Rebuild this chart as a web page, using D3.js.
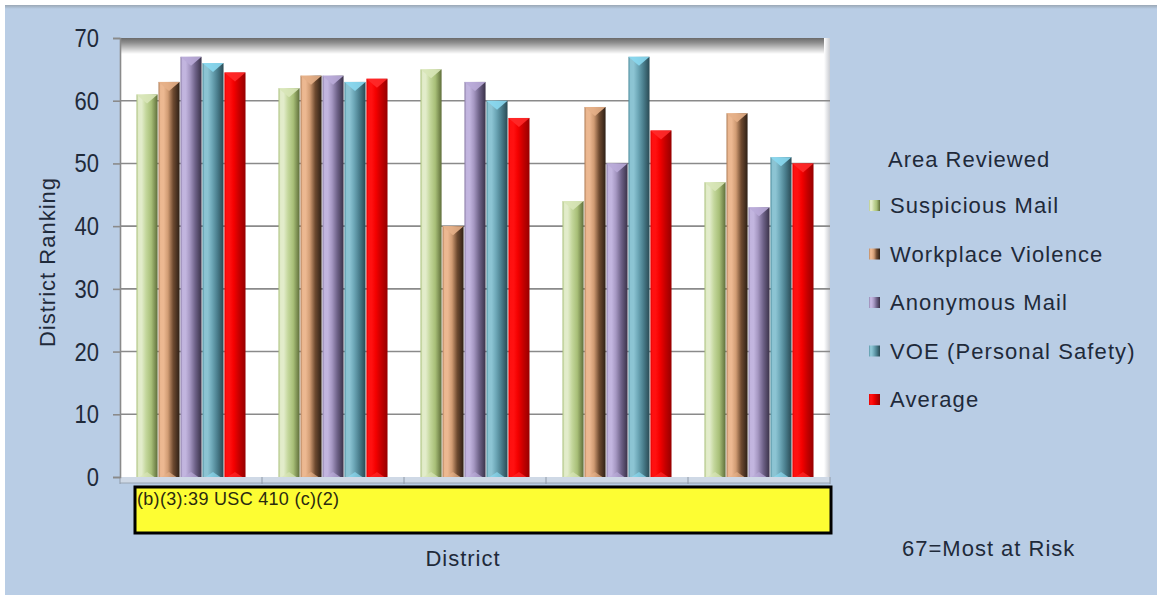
<!DOCTYPE html>
<html>
<head>
<meta charset="utf-8">
<script src="https://cdn.jsdelivr.net/npm/d3@7/dist/d3.min.js"></script>
<style>
  html, body { margin: 0; padding: 0; background: #ffffff; }
  svg { display: block; }
  text { font-family: "Liberation Sans", Arial, sans-serif; fill: #1f2a3a; }
</style>
</head>
<body>
<svg id="chart" width="1157" height="597"></svg>
<script>
// ---- data ----
const districts = ["D1", "D2", "D3", "D4", "D5"]; // district names redacted in the original
const seriesNames = ["Suspicious Mail", "Workplace Violence", "Anonymous Mail", "VOE (Personal Safety)", "Average"];
const suspiciousMail = [61, 62, 65, 44, 47];
const workplaceViolence = [63, 64, 40, 59, 58];
const anonymousMail = [67, 64, 63, 50, 43];
const voePersonalSafety = [66, 63, 60, 67, 51];
const averageValues = [64.5, 63.5, 57.25, 55.25, 50];
const yTicks = [0, 10, 20, 30, 40, 50, 60, 70];
const yTitle = "District Ranking";
const xTitle = "District";
const legendTitle = "Area Reviewed";
const redactionText = "(b)(3):39 USC 410 (c)(2)";
const noteText = "67=Most at Risk";

const seriesValues = [suspiciousMail, workplaceViolence, anonymousMail, voePersonalSafety, averageValues];
// colours: [left-edge, highlight, base, shade, right-edge, cap]
const palette = [
  ["#a9c07a", "#e2ecca", "#c4d79c", "#a8bf78", "#5f6e3a", "#d8e6b8"],
  ["#b07e58", "#ecb891", "#d09b73", "#6e4a30", "#2e2016", "#e5b088"],
  ["#8a7ca6", "#c2b5df", "#a597c2", "#6e6288", "#3a3249", "#b9abd8"],
  ["#4e8d9e", "#8cc4d3", "#6ea8b8", "#4b7f8e", "#2a4a54", "#8ad8ef"],
  ["#e00000", "#ff1010", "#f40000", "#c60000", "#960000", "#ff2a2a"]
];

const svg = d3.select("#chart");
const defs = svg.append("defs");

// background panel
svg.append("rect").attr("x", 0).attr("y", 0).attr("width", 1157).attr("height", 597).attr("fill", "#ffffff");
svg.append("rect").attr("x", 5).attr("y", 6).attr("width", 1152).attr("height", 589).attr("fill", "#b9cde5");
const topShade = defs.append("linearGradient").attr("id", "topShade").attr("x1", 0).attr("y1", 0).attr("x2", 0).attr("y2", 1);
topShade.append("stop").attr("offset", 0).attr("stop-color", "#9aa7b5");
topShade.append("stop").attr("offset", 1).attr("stop-color", "#b9cde5");
svg.append("rect").attr("x", 5).attr("y", 5).attr("width", 1152).attr("height", 4).attr("fill", "url(#topShade)");

// scales
const plot = { left: 120, right: 830, top: 38, bottom: 477 };
const y = d3.scaleLinear().domain([0, 70]).range([plot.bottom, plot.top]);
const x0 = d3.scaleBand().domain(districts).range([plot.left, plot.right]).paddingInner(0).paddingOuter(0);
const x1 = d3.scaleBand().domain(seriesNames).range([0, x0.bandwidth()]).paddingInner(0.04).paddingOuter(0.75);

// plot wall
svg.append("rect").attr("x", plot.left).attr("y", plot.top).attr("width", plot.right - plot.left)
  .attr("height", plot.bottom - plot.top).attr("fill", "#ffffff");
const wallTop = defs.append("linearGradient").attr("id", "wallTop").attr("x1", 0).attr("y1", 0).attr("x2", 0).attr("y2", 1);
wallTop.append("stop").attr("offset", 0).attr("stop-color", "#6a6a6a");
wallTop.append("stop").attr("offset", 0.3).attr("stop-color", "#8f8f8f");
wallTop.append("stop").attr("offset", 1).attr("stop-color", "#ffffff");
svg.append("rect").attr("x", plot.left).attr("y", plot.top).attr("width", plot.right - plot.left)
  .attr("height", 16).attr("fill", "url(#wallTop)");
const wallRight = defs.append("linearGradient").attr("id", "wallRight").attr("x1", 0).attr("y1", 0).attr("x2", 1).attr("y2", 0);
wallRight.append("stop").attr("offset", 0).attr("stop-color", "#ffffff");
wallRight.append("stop").attr("offset", 1).attr("stop-color", "#c9ccd2");
svg.append("rect").attr("x", plot.right - 6).attr("y", plot.top).attr("width", 6)
  .attr("height", plot.bottom - plot.top).attr("fill", "url(#wallRight)");

// gridlines
svg.append("g").selectAll("line").data(yTicks.filter(d => d > 0 && d < 70)).join("line")
  .attr("x1", plot.left).attr("x2", plot.right)
  .attr("y1", d => y(d)).attr("y2", d => y(d))
  .attr("stroke", "#8a8a8a").attr("stroke-width", 1.6);

// floor
svg.append("rect").attr("x", plot.left).attr("y", plot.bottom).attr("width", plot.right - plot.left)
  .attr("height", 6).attr("fill", "#cfd9e6");
svg.append("line").attr("x1", plot.left).attr("x2", plot.right).attr("y1", plot.bottom + 6).attr("y2", plot.bottom + 6)
  .attr("stroke", "#9aa6b4").attr("stroke-width", 1);
svg.append("g").selectAll("line").data(districts.map(d => x0(d)).concat([plot.right])).join("line")
  .attr("x1", d => d).attr("x2", d => d).attr("y1", plot.bottom).attr("y2", plot.bottom + 7)
  .attr("stroke", "#8f9aa8").attr("stroke-width", 1);

// y axis
const yAxis = d3.axisLeft(y).tickValues(yTicks).tickSize(7).tickPadding(14);
const yg = svg.append("g").attr("transform", `translate(${plot.left},0)`).call(yAxis);
yg.select(".domain").attr("stroke", "#8a8a8a").attr("stroke-width", 1.6);
yg.selectAll(".tick line").attr("stroke", "#8a8a8a").attr("stroke-width", 1.6);
yg.selectAll(".tick text").attr("font-size", 22).attr("fill", "#1f2a3a")
  .attr("font-family", "Liberation Sans, Arial, sans-serif")
  .attr("dy", "0.32em")
  .attr("transform", "scale(1,1.2)");

// bars
const gradients = palette.map((p, i) => {
  const g = defs.append("linearGradient").attr("id", "bar" + i).attr("x1", 0).attr("y1", 0).attr("x2", 1).attr("y2", 0);
  g.append("stop").attr("offset", 0).attr("stop-color", p[0]);
  g.append("stop").attr("offset", 0.1).attr("stop-color", p[1]);
  g.append("stop").attr("offset", 0.25).attr("stop-color", p[1]);
  g.append("stop").attr("offset", 0.45).attr("stop-color", p[2]);
  g.append("stop").attr("offset", 0.7).attr("stop-color", p[3]);
  g.append("stop").attr("offset", 1).attr("stop-color", p[4]);
  return "url(#bar" + i + ")";
});

const barData = [];
districts.forEach((d, di) => {
  seriesNames.forEach((s, si) => {
    barData.push({ district: d, series: s, si: si, value: seriesValues[si][di] });
  });
});

const bars = svg.append("g").selectAll("g").data(barData).join("g");
bars.append("rect")
  .attr("x", d => x0(d.district) + x1(d.series))
  .attr("y", d => y(d.value))
  .attr("width", x1.bandwidth())
  .attr("height", d => plot.bottom - y(d.value))
  .attr("fill", d => gradients[d.si]);
bars.append("path")
  .attr("d", d => {
    const xl = x0(d.district) + x1(d.series), w = x1.bandwidth(), yt = y(d.value);
    return `M${xl},${yt} L${xl + w},${yt} L${xl + w / 2},${yt + 9} Z`;
  })
  .attr("fill", d => palette[d.si][5]).attr("opacity", 0.9);
bars.append("path")
  .attr("d", d => {
    const xl = x0(d.district) + x1(d.series), w = x1.bandwidth(), yb = plot.bottom;
    return `M${xl + w * 0.15},${yb} L${xl + w / 2},${yb - 5} L${xl + w * 0.85},${yb} Z`;
  })
  .attr("fill", d => palette[d.si][5]).attr("opacity", 0.7);

// redaction box
svg.append("rect").attr("x", 135).attr("y", 487).attr("width", 696).attr("height", 46)
  .attr("fill", "#fdfd33").attr("stroke", "#000000").attr("stroke-width", 3);
svg.append("text").attr("x", 137).attr("y", 505).attr("font-size", 18).attr("letter-spacing", 0.3)
  .style("fill", "#2a2a10").text(redactionText);

// axis titles
svg.append("text").attr("transform", "translate(55,262) rotate(-90)").attr("text-anchor", "middle")
  .attr("font-size", 22).attr("letter-spacing", 1).text(yTitle);
svg.append("text").attr("x", 463).attr("y", 566).attr("text-anchor", "middle")
  .attr("font-size", 22).attr("letter-spacing", 1).text(xTitle);

// legend
const legend = svg.append("g");
legend.append("text").attr("x", 888).attr("y", 167).attr("font-size", 22).attr("letter-spacing", 1).text(legendTitle);
const legendY = d3.scalePoint().domain(seriesNames).range([213, 407]);
const li = legend.selectAll("g.item").data(seriesNames).join("g").attr("class", "item")
  .attr("transform", d => `translate(0,${legendY(d)})`);
li.append("rect").attr("x", 869).attr("y", -13).attr("width", 11).attr("height", 11)
  .attr("fill", (d, i) => gradients[i]);
li.append("text").attr("x", 890).attr("y", 0).attr("font-size", 22).attr("letter-spacing", 1.1).text(d => d);

svg.append("text").attr("x", 902).attr("y", 556).attr("font-size", 22).attr("letter-spacing", 1).text(noteText);
</script>
</body>
</html>
